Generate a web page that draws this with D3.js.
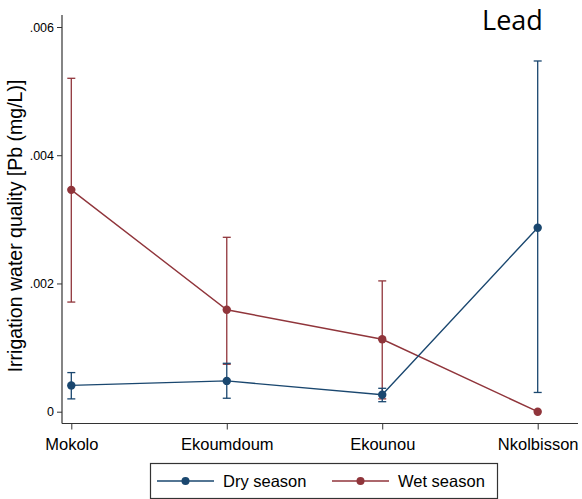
<!DOCTYPE html>
<html>
<head>
<meta charset="utf-8">
<script src="https://cdn.jsdelivr.net/npm/d3@7"></script>
<style>
  body { margin: 0; background: #fff; }
  text { font-family: "Liberation Sans", Arial, sans-serif; }
</style>
</head>
<body>
<script>
"use strict";

// data
var sites = ["Mokolo", "Ekoumdoum", "Ekounou", "Nkolbisson"];
var dryMean = [0.00041, 0.00048, 0.000265, 0.00287];
var dryLow = [0.0002, 0.00021, 0.000156, 0.0003];
var dryHigh = [0.00061, 0.000755, 0.000365, 0.00547];
var wetMean = [0.00346, 0.00159, 0.00113, 0.0];
var wetLow = [0.00171, 0.00074, 0.0002, 0.0];
var wetHigh = [0.0052, 0.00272, 0.00204, 0.0];
var yTicks = [0, 0.002, 0.004, 0.006];
var seasons = ["Dry season", "Wet season"];
var colors = ["#1a476f", "#90353b"];

var W = 582, H = 499;

var svg = d3.select("body").append("svg")
    .attr("width", W)
    .attr("height", H);

var x = d3.scalePoint()
    .domain(sites)
    .range([71.3, 537.7]);

var y = d3.scaleLinear()
    .domain([0, 0.006])
    .range([411.7, 27]);

// axes
var yAxis = svg.append("g")
    .attr("transform", "translate(62,0)")
    .call(d3.axisLeft(y).tickValues(yTicks).tickSize(5).tickPadding(3)
        .tickFormat(function (d) { return d === 0 ? "0" : d3.format(".3f")(d).replace(/^0/, ""); }));
yAxis.select(".domain").remove();
yAxis.append("line").attr("x1", 0).attr("x2", 0).attr("y1", 15).attr("y2", 423.5)
    .attr("stroke", "#333").attr("stroke-width", 1.2);
yAxis.selectAll(".tick line").attr("stroke", "#333");
yAxis.selectAll(".tick text").attr("font-size", 12.5).attr("fill", "#000")
    .style("font-family", "Liberation Sans, Arial, sans-serif");

var xAxis = svg.append("g")
    .attr("transform", "translate(0,423.5)")
    .call(d3.axisBottom(x).tickSize(6).tickPadding(9));
xAxis.select(".domain").remove();
xAxis.append("line").attr("x1", 62).attr("x2", 578).attr("y1", 0).attr("y2", 0)
    .attr("stroke", "#333").attr("stroke-width", 1.2);
xAxis.selectAll(".tick line").attr("stroke", "#333");
xAxis.selectAll(".tick text").attr("font-size", 16.5).attr("fill", "#000")
    .style("font-family", "Liberation Sans, Arial, sans-serif");

// y label
svg.append("text")
    .attr("transform", "translate(21.5,226) rotate(-90)")
    .attr("text-anchor", "middle")
    .attr("font-size", 19.5)
    .text("Irrigation water quality [Pb (mg/L)]");

// title
svg.append("text")
    .attr("x", 512.5)
    .attr("y", 30)
    .attr("text-anchor", "middle")
    .attr("font-size", 27)
    .style("font-family", "Open Sans, sans-serif")
    .text("Lead");

function drawSeries(means, lows, highs, color) {
    var g = svg.append("g");
    var pts = sites.map(function (s, i) { return {s: s, m: means[i], lo: lows[i], hi: highs[i]}; });
    pts.forEach(function (p) {
        if (p.hi - p.lo <= 0) return;
        g.append("line")
            .attr("x1", x(p.s)).attr("x2", x(p.s))
            .attr("y1", y(p.lo)).attr("y2", y(p.hi))
            .attr("stroke", color).attr("stroke-width", 1.3);
        [p.lo, p.hi].forEach(function (v) {
            g.append("line")
                .attr("x1", x(p.s) - 4).attr("x2", x(p.s) + 4)
                .attr("y1", y(v)).attr("y2", y(v))
                .attr("stroke", color).attr("stroke-width", 1.3);
        });
    });
    g.append("path")
        .datum(pts)
        .attr("fill", "none")
        .attr("stroke", color)
        .attr("stroke-width", 1.4)
        .attr("d", d3.line().x(function (d) { return x(d.s); }).y(function (d) { return y(d.m); }));
    g.selectAll("circle")
        .data(pts)
        .enter().append("circle")
        .attr("cx", function (d) { return x(d.s); })
        .attr("cy", function (d) { return y(d.m); })
        .attr("r", 4.2)
        .attr("fill", color);
}

drawSeries(wetMean, wetLow, wetHigh, colors[1]);
drawSeries(dryMean, dryLow, dryHigh, colors[0]);

// legend
var leg = svg.append("g");
leg.append("rect")
    .attr("x", 150.5).attr("y", 463.5)
    .attr("width", 347).attr("height", 35)
    .attr("fill", "#fff").attr("stroke", "#333").attr("stroke-width", 1.2);
var legX = [157, 332];
seasons.forEach(function (s, i) {
    leg.append("line")
        .attr("x1", legX[i]).attr("x2", legX[i] + 57)
        .attr("y1", 481).attr("y2", 481)
        .attr("stroke", colors[i]).attr("stroke-width", 1.4);
    leg.append("circle")
        .attr("cx", legX[i] + 28.5).attr("cy", 481).attr("r", 4)
        .attr("fill", colors[i]);
    leg.append("text")
        .attr("x", legX[i] + 66).attr("y", 487)
        .attr("font-size", 16.5)
        .text(s);
});
</script>
</body>
</html>
